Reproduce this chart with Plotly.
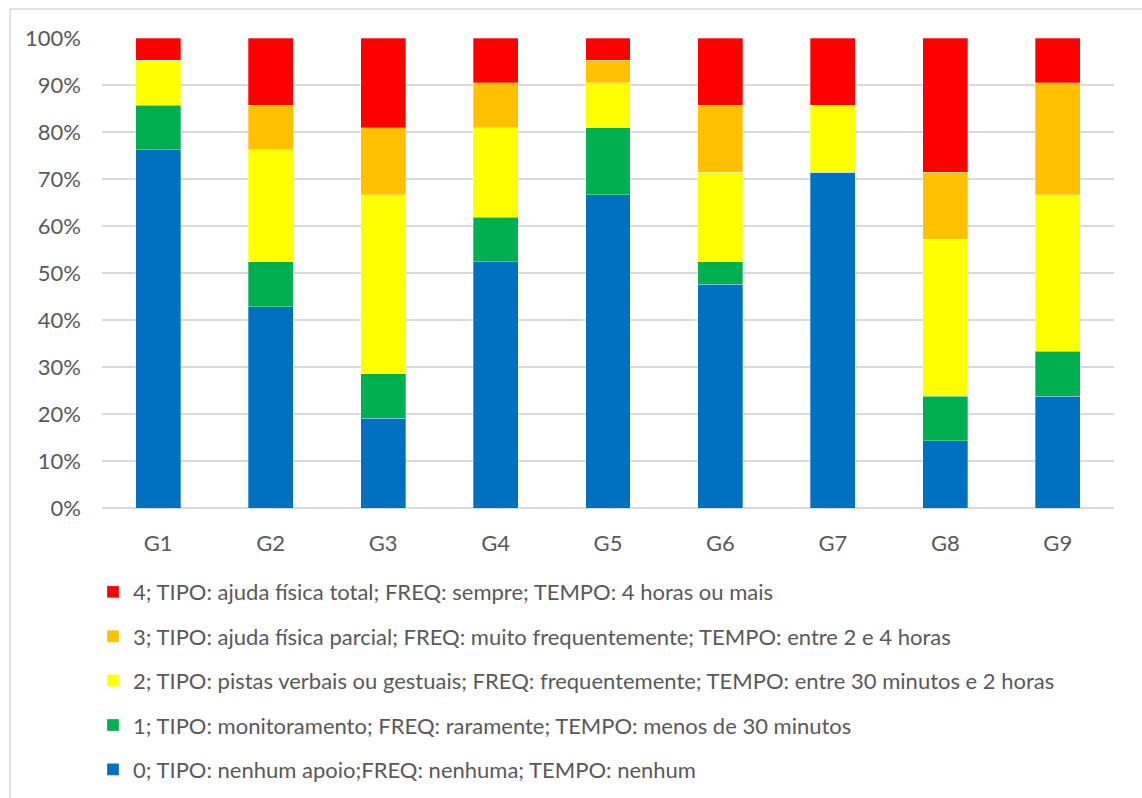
import plotly.graph_objects as go

groups = ["G1", "G2", "G3", "G4", "G5", "G6", "G7", "G8", "G9"]
# counts of respondents per level (out of 21 per group), shown as percentages
level0 = [16, 9, 4, 11, 14, 10, 15, 3, 5]
level1 = [2, 2, 2, 2, 3, 1, 0, 2, 2]
level2 = [2, 5, 8, 4, 2, 4, 3, 7, 7]
level3 = [0, 2, 3, 2, 1, 3, 0, 3, 5]
level4 = [1, 3, 4, 2, 1, 3, 3, 6, 2]

names = [
    "0; TIPO: nenhum apoio;FREQ: nenhuma; TEMPO: nenhum",
    "1; TIPO: monitoramento; FREQ: raramente; TEMPO: menos de 30 minutos",
    "2; TIPO: pistas verbais ou gestuais; FREQ: frequentemente; TEMPO: entre 30 minutos e 2 horas",
    "3; TIPO: ajuda física parcial; FREQ: muito frequentemente; TEMPO: entre 2 e 4 horas",
    "4; TIPO: ajuda física total; FREQ: sempre; TEMPO: 4 horas ou mais",
]
colors = ["#0070C0", "#00B050", "#FFFF00", "#FFC000", "#FF0000"]
series = [level0, level1, level2, level3, level4]

FONT = "Lato"
TXT = "#595959"
FS = 22

fig = go.Figure()
for i, (nm, col, vals) in enumerate(zip(names, colors, series)):
    fig.add_trace(go.Bar(
        x=groups, y=vals, name=nm, legendgroup=str(i), legendrank=(5 - i) * 100,
        marker=dict(color=col, line=dict(color="rgba(255,255,255,0.6)", width=0.5)),
    ))

W, H = 1142, 798
ml, mr, mt, mb = 102, 28, 38, 290
pw, ph = W - ml - mr, H - mt - mb

def px(x):
    return (x - ml) / pw

def py(y):
    return (H - mb - y) / ph

fig.update_layout(
    width=W, height=H,
    barmode="stack", barnorm="percent", bargap=0.6,
    margin=dict(l=ml, r=mr, t=mt, b=mb, autoexpand=False),
    paper_bgcolor="white", plot_bgcolor="white",
    font=dict(family=FONT, color=TXT, size=FS),
    xaxis=dict(showgrid=False, showline=False, ticks="", ticklabelstandoff=20,
               tickfont=dict(size=FS, color=TXT)),
    yaxis=dict(range=[0, 100], dtick=10, ticksuffix="%", showgrid=True,
               gridcolor="#D9D9D9", gridwidth=1.5, zeroline=True,
               zerolinecolor="#D9D9D9", zerolinewidth=1.5, showline=False,
               ticklabelstandoff=20, tickfont=dict(size=FS, color=TXT)),
    legend=dict(orientation="v", x=px(93), xanchor="left", y=py(571), yanchor="top",
                traceorder="grouped", tracegroupgap=12.8,
                font=dict(size=FS, color=TXT, family=FONT),
                bgcolor="rgba(0,0,0,0)"),
    showlegend=True,
    shapes=[dict(type="rect", xref="paper", yref="paper",
                 x0=px(10), x1=px(1160), y0=py(820), y1=py(9),
                 line=dict(color="#D9D9D9", width=1.5), fillcolor="rgba(0,0,0,0)",
                 layer="below")],
)

fig.write_html("out.html")
